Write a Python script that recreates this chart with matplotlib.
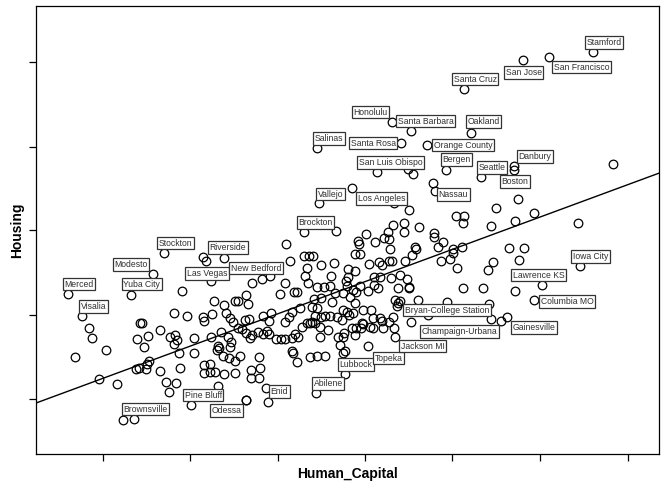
#!/usr/bin/env python3
"""
Scatter of Housing against Human_Capital for metro areas,
with a fitted line and boxed labels for the notable cities.
"""

import matplotlib
matplotlib.use('Agg')
import matplotlib.pyplot as plt

# labelled metros (arbitrary units)
label_names = ['Stamford', 'San Francisco', 'San Jose', 'Santa Cruz', 'Honolulu',
               'Santa Barbara', 'Oakland', 'Santa Rosa', 'Orange County', 'Salinas',
               'Bergen', 'Danbury', 'Boston', 'Seattle', 'San Luis Obispo', 'Nassau',
               'Los Angeles', 'Vallejo', 'Brockton', 'Stockton', 'Riverside', 'Modesto',
               'Las Vegas', 'New Bedford', 'Merced', 'Yuba City', 'Visalia', 'Pine Bluff',
               'Brownsville', 'Odessa', 'Enid', 'Abilene', 'Lubbock', 'Topeka',
               'Jackson MI', 'Champaign-Urbana', 'Bryan-College Station', 'Gainesville',
               'Columbia MO', 'Lawrence KS', 'Iowa City']
label_x = [593, 549, 523, 464, 392, 411, 471, 401, 427, 317,
           446, 514, 514, 481, 377, 435, 394, 319, 304, 164,
           224, 153, 211, 270, 68, 131, 82, 191, 123, 246,
           268, 316, 345, 368, 395, 411, 398, 507, 534, 542, 580]
label_y = [448, 443, 440, 411, 378, 369, 367, 357, 355, 352,
           330, 334, 330, 323, 328, 309, 297, 297, 268, 247,
           242, 226, 219, 224, 206, 205, 184, 95, 80, 100,
           98, 107, 126, 154, 163, 178, 197, 183, 200, 215, 234]

# where each label box sits relative to its point (pixels: left edge, centre height)
label_dx = [-8, 3, -19, -12, -40, -15, -5, -52, 5, -4,
            -5, 3, -14, -4, -20, 2, -38, -3, -7, -7,
            -16, -40, -26, -41, -5, -9, -3, -8, -1, -36,
            1, -4, -7, 5, 4, 9, 5, 4, 5, -31, -9]
label_dy = [9.5, -10, -12.5, 10, 10, 10, 11.5, 0, 0, 9.5,
            10.5, 9.5, -11.5, 9.5, 9.5, -3.5, 4.5, 9, 9.5, 10,
            10.5, 9.5, 7.5, 8, 10, 11, 9.5, 10, 11, -10.5,
            10.5, 9.5, 9.5, -12, -9, -9.5, -7, -10.5, -1.5, 10, 9.5]

# the other metros
other_x = [613, 408, 413, 352, 433, 409, 393, 404, 419, 404, 388, 366, 336, 286,
           358, 359, 375, 384, 389, 390, 415, 416, 412, 405,
           304, 309, 313, 290, 321, 334, 355, 360, 369, 379, 382, 389, 392,
           307, 348, 355, 374, 380, 348, 346, 305, 331, 391, 400, 407, 409,
           308, 317, 324, 330, 285, 252, 262, 360, 347, 374, 203, 206,
           518, 496, 534, 456, 464, 463, 491, 515, 578,
           434, 434, 443, 438, 453, 453, 462, 450, 441, 457, 493, 488, 509, 524, 519,
           463, 483, 515, 489, 447, 491, 501,
           335, 343, 350, 353, 356, 368, 378, 398, 409, 418, 395, 400, 397,
           355, 363, 371, 349, 342, 337, 347, 353, 393, 389, 382, 373, 363, 361,
           356, 352, 344, 355, 373, 383, 394, 338, 343, 340, 345, 343, 428,
           182, 214, 224, 235, 174, 187, 203, 204, 212, 226, 230, 233, 89, 92,
           140, 142, 160, 137, 148, 144, 170, 175, 177, 174, 179, 194, 211, 194,
           221, 228, 231, 218, 219, 217, 223, 229, 106, 75, 139, 136, 149, 147,
           146, 160, 180, 99, 117, 166, 176, 169, 204, 210, 204, 210, 215, 224,
           218, 134,
           246, 248, 238, 280, 294, 297, 314, 321, 332,
           245, 249, 263, 269, 271, 285, 289, 312, 315, 321, 325, 330,
           242, 246, 250, 252, 258, 263, 267, 269, 276, 281, 285, 292, 295, 302,
           307, 315, 320, 328, 240, 259, 292, 293, 297, 310, 317, 325,
           251, 260, 251, 259, 266, 246, 292, 317, 312, 238, 235, 235, 230,
           298, 320, 310, 362, 370, 380, 300, 343]
other_y = [336, 331, 326, 312, 317, 290, 275, 277, 273, 268, 268, 266, 269, 256,
           259, 256, 258, 262, 261, 251, 253, 251, 245, 239,
           244, 244, 244, 239, 235, 237, 246, 246, 236, 238, 235, 239, 239,
           232, 231, 229, 223, 223, 223, 219, 224, 224, 222, 225, 221, 213,
           217, 213, 213, 214, 217, 217, 221, 214, 214, 215, 243, 239,
           301, 292, 287, 284, 284, 277, 274, 279, 277,
           267, 263, 258, 253, 251, 247, 253, 241, 239, 232, 238, 230, 252, 252, 240,
           212, 212, 209, 196, 198, 181, 179,
           207, 207, 203, 210, 208, 209, 212, 212, 212, 200, 200, 199, 194,
           197, 190, 190, 185, 180, 183, 188, 187, 183, 178, 179, 182, 176, 172,
           172, 172, 167, 165, 172, 172, 172, 163, 163, 155, 149, 147, 185,
           209, 199, 195, 199, 187, 184, 183, 179, 186, 187, 182, 178, 172, 162,
           177, 177, 170, 161, 164, 153, 163, 165, 160, 156, 147, 162, 163, 147,
           168, 163, 158, 154, 152, 150, 144, 142, 150, 143, 132, 131, 139, 136,
           131, 129, 132, 121, 116, 118, 117, 108, 135, 136, 127, 128, 128, 126,
           114, 81,
           205, 196, 199, 206, 208, 208, 201, 202, 198,
           180, 181, 184, 179, 187, 178, 183, 193, 184, 183, 184, 184,
           171, 167, 162, 165, 168, 166, 169, 166, 161, 161, 161, 162, 166, 173,
           177, 177, 173, 170, 144, 143, 149, 147, 138, 143, 144, 144,
           130, 132, 122, 122, 112, 100, 188, 192, 178, 172, 139, 127, 153,
           163, 163, 177, 177, 173, 182, 192, 190]

# fitted line, Housing = intercept + slope * Human_Capital
fit_intercept = 83.7
fit_slope = 0.369

x_ticks = [103, 190, 277.7, 365, 452.3, 539.7, 627.7]
y_ticks = [101.3, 185, 270, 353.3, 438]


def main():
    plt.rcParams['font.family'] = ['Liberation Sans', 'DejaVu Sans']
    fig = plt.figure(figsize=(6.69, 4.92), dpi=100)
    ax = fig.add_axes([0.0538, 0.0772, 0.9313, 0.9106])

    all_x = other_x + label_x
    all_y = other_y + label_y
    ax.plot(all_x, all_y, linestyle='none', marker='o', markersize=6.2,
            markerfacecolor='none', markeredgecolor='black', markeredgewidth=0.9)

    ax.axline((0, fit_intercept), slope=fit_slope, color='black', linewidth=1.0)

    pad_px = 1.5
    for name, x, y, dx, dy in zip(label_names, label_x, label_y, label_dx, label_dy):
        ax.annotate(name, (x, y), xytext=(dx + pad_px, dy), textcoords='offset pixels',
                    ha='left', va='center', fontsize=6.2, color='#303030',
                    bbox=dict(boxstyle='square,pad=0.2', facecolor='white',
                              edgecolor='#333333', linewidth=0.9))

    ax.set_xlim(36, 659)
    ax.set_ylim(46, 494)
    ax.set_xticks(x_ticks)
    ax.set_yticks(y_ticks)
    ax.set_xticklabels([])
    ax.set_yticklabels([])
    ax.tick_params(direction='out', length=5, width=0.9, color='black')
    for spine in ax.spines.values():
        spine.set_linewidth(0.9)

    ax.set_xlabel('Human_Capital', fontsize=10, fontweight='bold')
    ax.set_ylabel('Housing', fontsize=10, fontweight='bold')
    ax.xaxis.set_label_coords(0.5, -0.045)
    ax.yaxis.set_label_coords(-0.0305, 0.5)
    ax.xaxis.label.set_verticalalignment('center')
    ax.yaxis.label.set_verticalalignment('center')

    fig.savefig('out.png', dpi=100)


if __name__ == "__main__":
    main()
